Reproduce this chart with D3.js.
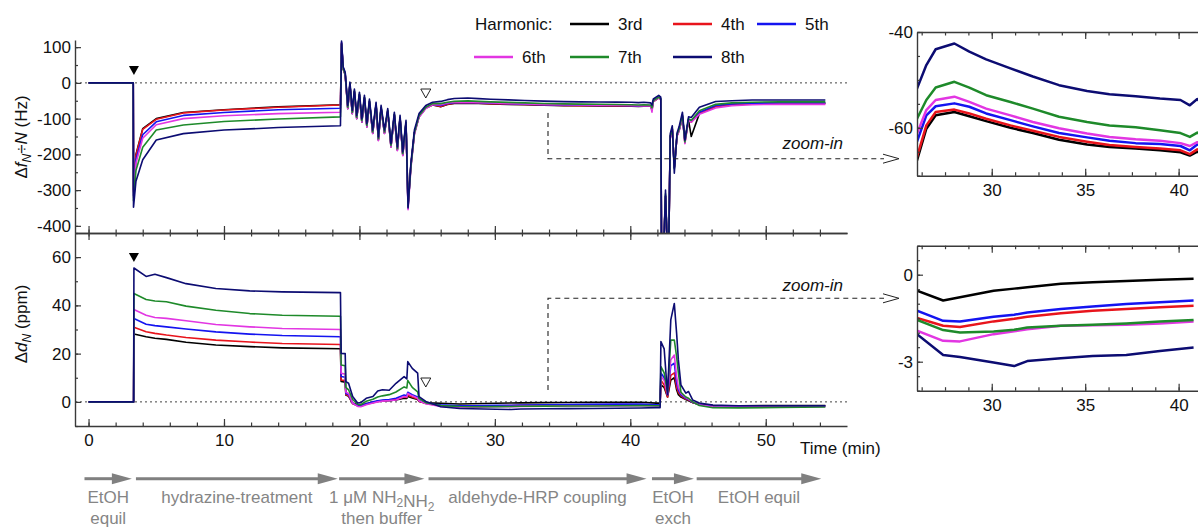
<!DOCTYPE html>
<html>
<head>
<meta charset="utf-8">
<script src="https://cdn.jsdelivr.net/npm/d3@7"></script>
<style>
    body { margin: 0; background: #fff; }
    svg { display: block; font-family: Arial, "Liberation Sans", sans-serif; }
</style>
</head>
<body>
<svg id="chart" width="1198" height="527"></svg>
<script>
// Harmonics and their colours
const harmonics = ["3rd", "4th", "5th", "6th", "7th", "8th"];
const colors = ["#000000", "#e8141c", "#1414f0", "#e236e2", "#1e8a2a", "#0c0c72"];

// Frequency shift Δf/N (Hz) — time axis (min)
const tF = [0, 3.3, 3.32, 3.5, 4, 5, 7, 10, 14, 18.6,
    18.68, 18.8, 18.95, 19.14, 19.3, 19.47, 19.63, 19.8, 20.0, 20.18,
    20.37, 20.55, 20.74, 20.98, 21.23, 21.4, 21.6, 21.85, 22.09, 22.33,
    22.58, 22.8, 23.0, 23.2, 23.44, 23.59, 23.8, 24.06, 24.4, 24.9,
    25.4, 26, 26.5, 27, 28, 28.8, 29.7, 31, 32.2, 33.6,
    35.1, 36.3, 37.7, 39, 40.1, 40.6, 41, 41.5, 41.6, 41.7,
    42.1, 42.25, 42.3, 42.5, 42.6, 42.7, 42.85, 42.95, 43.1, 43.25,
    43.45, 43.6, 43.85, 44.03, 44.3, 44.5, 45.1, 46.3, 47.5, 49,
    51, 54.4];

const df3 = [0, 0, -300, -200, -128, -100, -83, -75, -67, -61,
    108, 38, 22, -72, -6, -86, -26, -100, -35, -110,
    -44, -123, -54, -141, -63, -160, -72, -141, -81, -179,
    -91, -188, -100, -202, -114, -340, -230, -140, -95, -70,
    -62, -66.8, -60.2, -57.4, -56.7, -57.6, -58.6, -60, -61.1, -62.5,
    -63.5, -64, -64.3, -64.7, -65.1, -65.8, -65, -65.5, -76, -52,
    -42, -46, -425, -425, -318, -425, -425, -152, -130, -236,
    -148, -134, -96, -160, -104, -150, -86, -66, -60, -58,
    -57, -57];
const df4 = [0, 0, -305, -203, -130, -102, -84, -76, -68, -62,
    110, 40, 24, -70, -5, -84, -24, -98, -33, -108,
    -42, -121, -52, -139, -61, -158, -70, -139, -79, -177,
    -89, -186, -98, -200, -112, -345, -232, -140, -94, -70,
    -61, -66.1, -59.5, -56.7, -56.2, -57, -58.1, -59.5, -60.6, -61.9,
    -62.9, -63.6, -64, -64.3, -64.7, -65.5, -64.5, -65, -74, -52,
    -42, -46, -425, -425, -318, -425, -425, -150, -128, -236,
    -148, -132, -94, -168, -104, -110, -85, -66, -61, -59,
    -58, -58];
const df5 = [0, 0, -315, -215, -145, -109, -91, -83, -75, -71,
    113, 42, 26, -70, -4, -84, -24, -98, -33, -108,
    -42, -121, -52, -139, -61, -158, -70, -139, -79, -177,
    -89, -186, -98, -200, -112, -348, -232, -140, -94, -70,
    -60, -62.9, -57.4, -55.5, -54.9, -55.6, -57, -58.4, -59.7, -61.1,
    -62, -62.7, -63.2, -63.4, -63.8, -64.7, -63.5, -64, -72, -50,
    -40, -45, -425, -425, -315, -425, -425, -150, -128, -238,
    -146, -132, -92, -166, -102, -106, -82, -63, -59, -57,
    -56, -56];
const df6 = [0, 0, -320, -225, -155, -117, -100, -92, -86, -82,
    112, 40, 22, -72, -6, -86, -26, -100, -35, -110,
    -44, -124, -54, -142, -63, -162, -72, -142, -81, -180,
    -92, -190, -100, -204, -114, -355, -240, -145, -96, -72,
    -61, -61.2, -56.3, -54.2, -53.5, -54.6, -56, -57.4, -58.8, -60.1,
    -61.2, -61.9, -62.4, -62.7, -63.2, -63.8, -63, -64, -82, -52,
    -42, -48, -425, -425, -320, -425, -425, -155, -130, -235,
    -150, -135, -95, -170, -105, -110, -88, -70, -64, -61,
    -60, -60];
const df7 = [0, 0, -330, -245, -180, -132, -118, -108, -101, -95,
    110, 40, 25, -68, -3, -82, -22, -96, -31, -106,
    -40, -119, -50, -137, -59, -156, -68, -137, -77, -175,
    -87, -184, -96, -198, -110, -345, -235, -140, -92, -68,
    -58, -58.1, -54.2, -51.6, -50.4, -51.6, -53.2, -54.6, -56, -57.7,
    -58.8, -59.5, -59.9, -60.5, -61.1, -61.9, -61, -62, -70, -50,
    -40, -45, -425, -425, -310, -425, -425, -150, -128, -240,
    -145, -130, -90, -165, -100, -105, -78, -60, -56, -54,
    -53, -53];
const df8 = [0, 0, -348, -275, -215, -160, -142, -132, -125, -120,
    117, 45, 30, -63, 2, -77, -17, -91, -26, -101,
    -35, -114, -45, -132, -54, -151, -63, -132, -72, -170,
    -82, -179, -91, -193, -105, -350, -225, -132, -86, -63,
    -54, -51.8, -46.9, -43.6, -42.4, -44.1, -45.7, -47.6, -49.3, -51.1,
    -52.3, -53, -53.4, -53.9, -54.2, -55.3, -54, -56, -62, -45,
    -35, -40, -425, -425, -300, -425, -425, -142, -120, -253,
    -140, -123, -82, -160, -95, -97, -68, -52, -50, -48,
    -48, -48];

// Dissipation shift Δd (ppm) — time axis (min)
const tD = [0, 3.33, 3.35, 4.25, 4.9, 5.75, 7.2, 9.4, 11.9, 14.3,
    18.6, 18.65, 18.95, 19.0, 19.2, 19.5, 19.87, 20.1, 20.5, 21,
    21.35, 21.7, 22.2, 22.7, 23.3, 23.5, 23.57, 23.9, 24.3, 24.4,
    24.9, 25.5, 26, 27.4, 28.3, 30.1, 31.2, 31.9, 33.7, 35.4,
    37.2, 39, 40.8, 41.9, 42.2, 42.26, 42.5, 42.75, 42.99, 43.25,
    43.42, 43.55, 43.74, 44.1, 44.3, 44.6, 45.1, 46.1, 48, 51,
    54.4];

const dd3 = [0, 0, 28.1, 27, 26.4, 25.9, 24.7, 23.6, 22.9, 22.4,
    22, 8.5, 8.2, 2.8, 2.3, -0.5, -1.2, -1.4, -0.8, -0.2,
    0.2, 0.4, 0.5, 0.8, 1.5, 1.4, 2.2, 1.6, 1, 0.2,
    -0.5, -0.5, -0.55, -0.89, -0.78, -0.55, -0.48, -0.43, -0.31, -0.26,
    -0.22, -0.17, -0.14, -0.5, -0.5, 7, 6, 2, 9, 10,
    5, 3, 2, 1, 0.5, -0.3, -1, -1.5, -1.6, -1.5,
    -1.5];
const dd4 = [0, 0, 30.9, 29.1, 28.4, 27.7, 26.7, 25.6, 24.8, 24.2,
    23.8, 9.1, 8.8, 3, 2.5, -0.8, -1.6, -1.8, -1, -0.3,
    0.2, 0.5, 0.7, 1, 2, 1.8, 2.8, 2, 1.2, 0.3,
    -0.7, -1.2, -1.49, -1.76, -1.8, -1.61, -1.52, -1.45, -1.33, -1.24,
    -1.18, -1.12, -1.07, -1.3, -1.3, 9, 7, 2, 11, 12,
    6, 4, 2.5, 1.2, 0.8, -0.3, -1.2, -1.8, -1.9, -1.8,
    -1.7];
const dd5 = [0, 0, 34.6, 32.2, 31.6, 31.1, 30.2, 29, 28.1, 27.5,
    27, 10.5, 10.2, 3.5, 3, -0.6, -1.6, -1.7, -0.8, 0,
    0.5, 0.8, 1, 1.5, 2.8, 2.5, 4, 3, 2, 0.6,
    -0.6, -1, -1.24, -1.59, -1.61, -1.45, -1.38, -1.3, -1.18, -1.1,
    -1.01, -0.95, -0.89, -1.2, -1.2, 12, 10, 3, 15, 16,
    8, 5, 3, 1.5, 1, -0.2, -1.2, -1.8, -1.9, -1.8,
    -1.7];
const dd6 = [0, 0, 38.3, 35.9, 35, 34.6, 33.6, 32.1, 31.1, 30.4,
    30, 11.9, 11.5, 4, 3.5, -0.5, -1.9, -2, -1.2, -0.5,
    0, 0.3, 0.5, 0.8, 2.2, 2, 3.5, 2.5, 1.5, 0.5,
    -0.8, -1.4, -1.93, -2.28, -2.3, -2.05, -1.95, -1.88, -1.76, -1.74,
    -1.73, -1.68, -1.61, -1.7, -1.7, 10.5, 9, 3, 17.4, 19.4,
    10.5, 6, 3.6, 1.8, 1.2, 0, -1.3, -2, -2.1, -2,
    -1.9];
const dd7 = [0, 0, 44.9, 42.4, 41.8, 41.5, 39.7, 38, 36.6, 35.9,
    35.5, 15.3, 15, 6, 5, 1, -1, -1.2, 0.3, 1.1,
    2, 2.5, 3, 4.1, 6.2, 5.8, 8.9, 6, 4.1, 1.5,
    -0.3, -1, -1.56, -1.91, -1.99, -1.96, -1.9, -1.82, -1.76, -1.73,
    -1.68, -1.61, -1.56, -1.6, -1.6, 14.6, 12, 4, 25.6, 25.6,
    18.7, 12, 4, 2, 1.5, 0, -1.5, -2.4, -2.5, -2.3,
    -2.1];
const dd8 = [0, 0, 55.5, 52, 52.9, 51.5, 49, 47, 46, 45.6,
    45.3, 20.1, 20, 8.4, 7.7, 2.2, -0.5, -0.3, 1.5, 2.2,
    4.5, 5, 4.8, 7.7, 10.5, 9.5, 16.7, 13.9, 11.9, 2.2,
    0.2, -1, -2.05, -2.77, -2.84, -3.03, -3.15, -2.98, -2.88, -2.8,
    -2.77, -2.63, -2.51, -2.4, -2.4, 25, 22, 3, 34, 40.8,
    28.4, 17.4, 7, 3.6, 4.3, 0.8, -0.5, -1.3, -1.6, -1.6,
    -1.6];

const dfSeries = [df3, df4, df5, df6, df7, df8];
const ddSeries = [dd3, dd4, dd5, dd6, dd7, dd8];

// Tick labels
const xTicks = [0, 10, 20, 30, 40, 50];
const fTicks = [100, 0, -100, -200, -300, -400];
const dTicks = [0, 20, 40, 60];
const insetXTicks = [30, 35, 40];
const insetFTicks = [-40, -60];
const insetDTicks = [0, -3];

// Experiment stages (time spans, min); "_" marks a subscript
const stageStart = [-0.3, 3.5, 18.5, 25.1, 41.6, 44.9];
const stageEnd = [3.2, 18.4, 24.8, 41.2, 44.7, 54.1];
const stageLabels = [["EtOH", "equil"], ["hydrazine-treatment"], ["1 μM NH_2NH_2", "then buffer"],
    ["aldehyde-HRP coupling"], ["EtOH", "exch"], ["EtOH equil"]];

// Injection markers (min)
const markerTimes = [3.35, 24.9];

// ---------------------------------------------------------------
const svg = d3.select("#chart");
const axisColor = "#3a3a3a";

// Scales
const x = d3.scaleLinear().domain([-1, 56]).range([75, 847]);
const yF = d3.scaleLinear().domain([-420, 120]).range([233, 40]);
const yD = d3.scaleLinear().domain([-10, 70]).range([426, 233]);
const xI = d3.scaleLinear().domain([26, 42]).range([917, 1216]);
const yFI = d3.scaleLinear().domain([-70, -40]).range([175.7, 32]);
const yDI = d3.scaleLinear().domain([-4, 1]).range([390.7, 245.7]);

// Clip paths
const defs = svg.append("defs");
function addClip(id, x0, y0, x1, y1) {
    defs.append("clipPath").attr("id", id)
        .append("rect").attr("x", x0).attr("y", y0).attr("width", x1 - x0).attr("height", y1 - y0);
}
addClip("clipF", 75, 30, 848, 233);
addClip("clipD", 75, 233, 848, 426);
addClip("clipFI", 917, 32, 1198, 175.7);
addClip("clipDI", 917, 245.7, 1198, 390.7);

// Zero reference lines
function zeroLine(xs, ys, x0, x1) {
    svg.append("line")
        .attr("x1", xs(x0)).attr("x2", xs(x1))
        .attr("y1", ys(0)).attr("y2", ys(0))
        .attr("stroke", "#444").attr("stroke-width", 1).attr("stroke-dasharray", "2,3");
}
zeroLine(x, yF, -1, 56);
zeroLine(x, yD, -1, 56);

// Data lines
function drawLines(xs, ys, tArr, series, clipId, width, tMin, tMax) {
    const line = d3.line().x((d) => xs(d[0])).y((d) => ys(d[1]));
    series.forEach((vals, i) => {
        const pts = tArr.map((t, j) => [t, vals[j]]).filter((d) => d[0] >= tMin && d[0] <= tMax);
        svg.append("path")
            .attr("d", line(pts))
            .attr("fill", "none")
            .attr("stroke", colors[i])
            .attr("stroke-width", width)
            .attr("stroke-linejoin", "round")
            .attr("clip-path", `url(#${clipId})`);
    });
}
drawLines(x, yF, tF, dfSeries, "clipF", 1.6, -1, 56);
drawLines(x, yD, tD, ddSeries, "clipD", 1.6, -1, 56);
drawLines(xI, yFI, tF, dfSeries, "clipFI", 2.5, 25.4, 41.6);
drawLines(xI, yDI, tD, ddSeries, "clipDI", 2.5, 25.4, 41.6);

// Axes
function styleAxis(g) {
    g.selectAll(".domain").attr("stroke", axisColor).attr("stroke-width", 1.4);
    g.selectAll(".tick line").attr("stroke", axisColor).attr("stroke-width", 1.2);
    g.selectAll("text").attr("font-size", 17).attr("fill", "#111").attr("font-family", "Arial, 'Liberation Sans', sans-serif");
}
function addAxis(axisFn, scale, transform, majors, minors, size, labels, pad) {
    const gMin = svg.append("g").attr("transform", transform)
        .call(axisFn(scale).tickValues(minors).tickSize(-size / 2).tickSizeOuter(0).tickFormat(""));
    gMin.select(".domain").remove();
    styleAxis(gMin);
    const gMaj = svg.append("g").attr("transform", transform)
        .call(axisFn(scale).tickValues(majors).tickSize(-size).tickSizeOuter(0)
            .tickPadding(pad).tickFormat(labels ? (d) => String(d) : ""));
    styleAxis(gMaj);
}

const xMinor = d3.range(0, 56, 2);
addAxis(d3.axisLeft, yF, "translate(75,0)", fTicks, d3.range(-400, 120, 50), 6, true, 4);
addAxis(d3.axisBottom, x, "translate(0,233)", xTicks, xMinor, 7, false, 0);
addAxis(d3.axisTop, x, "translate(0,233)", xTicks, xMinor, 7, false, 0);
addAxis(d3.axisLeft, yD, "translate(75,0)", dTicks, d3.range(-10, 71, 10), 6, true, 4);
addAxis(d3.axisBottom, x, "translate(0,426)", xTicks, xMinor, 7, true, 8);

const xIMinor = d3.range(26.25, 42, 1.25);
addAxis(d3.axisLeft, yFI, "translate(917,0)", insetFTicks, d3.range(-70, -39, 5), 6, true, 4);
addAxis(d3.axisBottom, xI, "translate(0,175.7)", insetXTicks, xIMinor, 7, true, 8);
addAxis(d3.axisTop, xI, "translate(0,32)", insetXTicks, xIMinor, 7, false, 0);
addAxis(d3.axisLeft, yDI, "translate(917,0)", insetDTicks, d3.range(-4, 1.01, 0.5), 6, true, 4);
addAxis(d3.axisBottom, xI, "translate(0,390.7)", insetXTicks, xIMinor, 7, true, 8);
addAxis(d3.axisTop, xI, "translate(0,245.7)", insetXTicks, xIMinor, 7, false, 0);

// Axis titles
const ylab1 = svg.append("text").attr("transform", "translate(27,137) rotate(-90)")
    .attr("text-anchor", "middle").attr("font-size", 17).attr("fill", "#111");
ylab1.append("tspan").text("Δ");
ylab1.append("tspan").attr("font-style", "italic").text("f");
ylab1.append("tspan").attr("font-style", "italic").attr("font-size", 12).attr("dy", 4).text("N");
ylab1.append("tspan").attr("dy", -4).text("÷");
ylab1.append("tspan").attr("font-style", "italic").text("N");
ylab1.append("tspan").text(" (Hz)");

const ylab2 = svg.append("text").attr("transform", "translate(27,324) rotate(-90)")
    .attr("text-anchor", "middle").attr("font-size", 17).attr("fill", "#111");
ylab2.append("tspan").text("Δ");
ylab2.append("tspan").attr("font-style", "italic").text("d");
ylab2.append("tspan").attr("font-style", "italic").attr("font-size", 12).attr("dy", 4).text("N");
ylab2.append("tspan").attr("dy", -4).text(" (ppm)");

svg.append("text").attr("x", 800).attr("y", 454).attr("font-size", 17).attr("fill", "#111").text("Time (min)");

// Legend
svg.append("text").attr("x", 475).attr("y", 30).attr("font-size", 17).attr("fill", "#111").text("Harmonic:");
const legendPos = [[570, 24], [673, 24], [757, 24], [474, 57], [570, 57], [673, 57]];
harmonics.forEach((h, i) => {
    const [lx, ly] = legendPos[i];
    svg.append("line").attr("x1", lx).attr("x2", lx + 39).attr("y1", ly).attr("y2", ly)
        .attr("stroke", colors[i]).attr("stroke-width", 2.5);
    svg.append("text").attr("x", lx + 48).attr("y", ly + 6).attr("font-size", 17).attr("fill", "#111").text(h);
});

// Injection markers
const tri = (cx, cy) => `M${cx - 5},${cy - 5}L${cx + 5},${cy - 5}L${cx},${cy + 4}Z`;
svg.append("path").attr("d", tri(x(markerTimes[0]), 71)).attr("fill", "#000");
svg.append("path").attr("d", tri(x(markerTimes[0]), 258)).attr("fill", "#000");
svg.append("path").attr("d", tri(x(markerTimes[1]), 94)).attr("fill", "none").attr("stroke", "#222").attr("stroke-width", 1);
svg.append("path").attr("d", tri(x(markerTimes[1]), 383)).attr("fill", "none").attr("stroke", "#222").attr("stroke-width", 1);

// Zoom-in connectors
function connector(yTurn, yEnd, labelY) {
    svg.append("path")
        .attr("d", `M548,${yEnd}L548,${yTurn}L884,${yTurn}`)
        .attr("fill", "none").attr("stroke", "#222").attr("stroke-width", 1.1).attr("stroke-dasharray", "5,4");
    svg.append("path")
        .attr("d", `M883,${yTurn - 4.5}L899,${yTurn}L883,${yTurn + 4.5}`)
        .attr("fill", "none").attr("stroke", "#222").attr("stroke-width", 1);
    svg.append("text").attr("x", 843).attr("y", labelY).attr("text-anchor", "end")
        .attr("font-size", 17).attr("font-style", "italic").attr("fill", "#111").text("zoom-in");
}
connector(158.7, 113, 149);
connector(298.3, 390, 291);

// Stage arrows
const stageY = 478.7;
stageStart.forEach((s, i) => {
    const x0 = x(s), x1 = x(stageEnd[i]);
    svg.append("line").attr("x1", x0).attr("x2", x1 - 16).attr("y1", stageY).attr("y2", stageY)
        .attr("stroke", "#808080").attr("stroke-width", 3);
    svg.append("path").attr("d", `M${x1 - 20},${stageY - 5.5}L${x1},${stageY}L${x1 - 20},${stageY + 5.5}Z`)
        .attr("fill", "#808080");
    const cx = (x0 + x1) / 2;
    stageLabels[i].forEach((txt, k) => {
        const t = svg.append("text").attr("x", cx).attr("y", 503 + k * 21).attr("text-anchor", "middle")
            .attr("font-size", 17).attr("fill", "#858585");
        txt.split(/(_\d)/).filter((p) => p.length).forEach((p) => {
            if (p[0] === "_") {
                t.append("tspan").attr("font-size", 12).attr("dy", 4).text(p.slice(1));
                t.append("tspan").attr("dy", -4).text("");
            } else {
                t.append("tspan").text(p);
            }
        });
    });
});
</script>
</body>
</html>
